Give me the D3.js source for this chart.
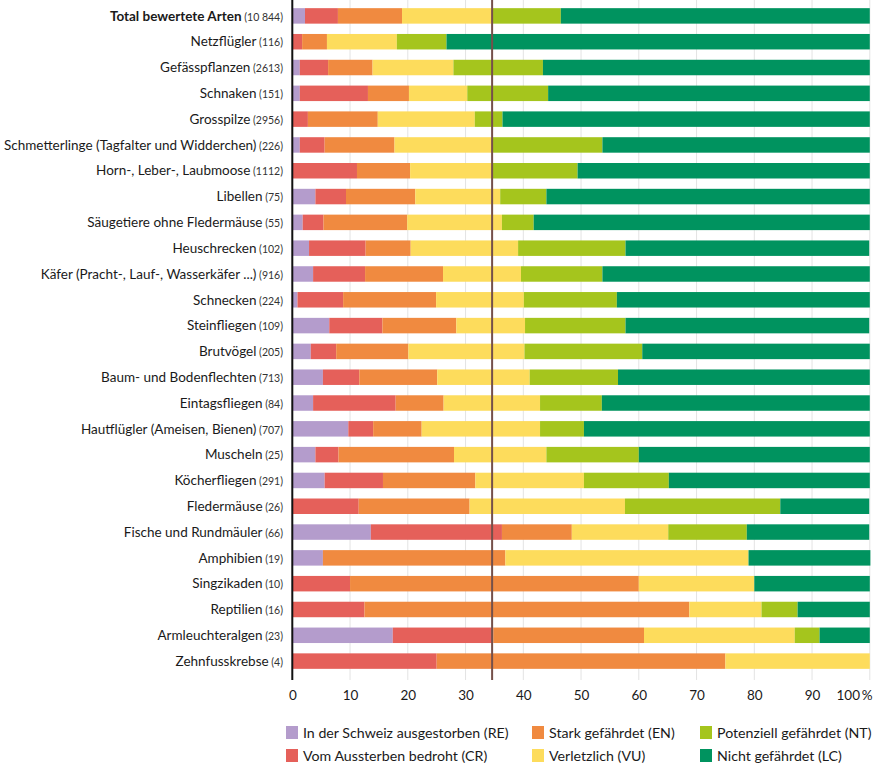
<!DOCTYPE html>
<html><head><meta charset="utf-8">
<script src="https://cdn.jsdelivr.net/npm/d3@7"></script>
<style>
html,body{margin:0;padding:0;background:#fff;}
svg{display:block;font-family:Lato, "Open Sans", sans-serif;}
</style></head>
<body><svg id="chart" width="873" height="771"></svg>
<script>
const categories = [
  "Total bewertete Arten","Netzflügler","Gefässpflanzen","Schnaken","Grosspilze",
  "Schmetterlinge (Tagfalter und Widderchen)","Horn-, Leber-, Laubmoose","Libellen",
  "Säugetiere ohne Fledermäuse","Heuschrecken","Käfer (Pracht-, Lauf-, Wasserkäfer ...)",
  "Schnecken","Steinfliegen","Brutvögel","Baum- und Bodenflechten","Eintagsfliegen",
  "Hautflügler (Ameisen, Bienen)","Muscheln","Köcherfliegen","Fledermäuse",
  "Fische und Rundmäuler","Amphibien","Singzikaden","Reptilien","Armleuchteralgen","Zehnfusskrebse"
];
const counts = ["10 844","116","2613","151","2956","226","1112","75","55","102","916","224","109","205","713","84","707","25","291","26","66","19","10","16","23","4"];
const seriesKeys = ["RE","CR","EN","VU","NT","LC"];
const seriesNames = ["In der Schweiz ausgestorben (RE)","Vom Aussterben bedroht (CR)","Stark gefährdet (EN)","Verletzlich (VU)","Potenziell gefährdet (NT)","Nicht gefährdet (LC)"];
const seriesColors = ["#b49ccc","#e5605a","#f08a40","#fddc5c","#a5c51d","#00935f"];
const RE = [2.2,0,1.3,1.3,0,1.3,0,4.0,1.8,2.9,3.6,0.9,6.4,3.2,5.3,3.6,9.7,4,5.6,0,13.6,5.3,0,0,17.4,0];
const CR = [5.7,1.7,4.9,11.8,2.7,4.3,11.2,5.3,3.6,9.8,9.0,7.9,9.2,4.4,6.3,14.3,4.3,4,10.1,11.5,22.7,0,10,12.5,17.4,25];
const EN = [11.1,4.3,7.7,7.1,12.1,12.1,9.2,12.0,14.5,7.8,13.5,16.1,12.8,12.5,13.5,8.3,8.4,20,16.0,19.2,12.1,31.6,50,56.25,26.1,50];
const VU = [15.6,12.1,14.0,10.1,16.8,17.0,14.3,14.7,16.4,18.6,13.5,15.2,11.9,20.1,16.0,16.7,20.5,16,18.8,26.9,16.7,42.1,20,12.5,26.1,25];
const NT = [11.9,8.6,15.5,14.0,4.8,19.0,14.7,8.0,5.5,18.6,14.1,16.1,17.4,20.4,15.3,10.7,7.6,16,14.7,26.9,13.6,0,0,6.25,4.3,0];
const LC = [53.5,73.3,56.6,55.7,63.6,46.3,50.6,56.0,58.2,42.2,46.3,43.8,42.2,39.4,43.6,46.4,49.5,40,34.8,15.4,21.2,21.1,20,12.5,8.7,0];
const averageThreatened = 34.6;
const xTicks = [0,10,20,30,40,50,60,70,80,90,100];

const rows = categories.map((c,i)=>({cat:c, RE:RE[i], CR:CR[i], EN:EN[i], VU:VU[i], NT:NT[i], LC:LC[i]}));
const stacked = d3.stack().keys(seriesKeys)(rows);

const svg = d3.select("#chart");
const x = d3.scaleLinear().domain([0,100]).range([292.3, 869.8]);
const y = d3.scaleBand().domain(categories).range([3, 674]).paddingInner(0.4).paddingOuter(0.2);
const plotBottom = 680;

// gridlines
svg.append("g").selectAll("line").data(xTicks.slice(1)).join("line")
  .attr("x1", d=>x(d)).attr("x2", d=>x(d)).attr("y1",0).attr("y2",plotBottom)
  .attr("stroke","#e3e3e3").attr("stroke-width",1);

// bars
const color = d3.scaleOrdinal().domain(seriesKeys).range(seriesColors);
svg.append("g").selectAll("g").data(stacked).join("g")
  .attr("fill", d=>color(d.key))
  .selectAll("rect").data(d=>d).join("rect")
  .attr("x", d=>x(d[0])).attr("width", d=>Math.max(0, x(d[1])-x(d[0])))
  .attr("y", d=>y(d.data.cat)).attr("height", y.bandwidth());

// average line
svg.append("line").attr("x1", x(averageThreatened)).attr("x2", x(averageThreatened))
  .attr("y1",0).attr("y2",plotBottom).attr("stroke","#75504a").attr("stroke-width",2);

// y axis line
svg.append("line").attr("x1", x(0)).attr("x2", x(0)).attr("y1",0).attr("y2",plotBottom)
  .attr("stroke","#111").attr("stroke-width",2);

// category labels
const lab = svg.append("g").selectAll("text").data(categories).join("text")
  .attr("x", 283).attr("y", d=>y(d)+y.bandwidth()/2).attr("dy","0.35em")
  .attr("text-anchor","end").attr("fill","#1a1a1a").attr("font-size",13.5)
  .attr("font-weight",(d,i)=>i===0?"bold":"normal");
lab.append("tspan").text(d=>d);
lab.append("tspan").attr("font-size",10.5).attr("fill","#333").attr("font-weight","normal")
  .text((d,i)=>" ("+counts[i]+")");

// x axis tick labels
const xAxis = d3.axisBottom(x).tickValues(xTicks).tickSize(0).tickPadding(0)
  .tickFormat(d=> d===100 ? "100\u2009%" : d);
const ax = svg.append("g").attr("transform",`translate(0,${plotBottom+10})`).call(xAxis);
ax.select(".domain").remove();
ax.selectAll("text").attr("font-size",13.5).attr("fill","#1a1a1a").attr("font-family","Lato, sans-serif");
ax.selectAll(".tick").filter(d=>d===100).select("text").attr("text-anchor","end").attr("x", 872-x(100));

// legend
const legX = [286, 532, 700];
const legY = [733, 756];
const leg = svg.append("g").selectAll("g").data(seriesNames).join("g")
  .attr("transform",(d,i)=>`translate(${legX[Math.floor(i/2)]},${legY[i%2]})`);
leg.append("rect").attr("x",0).attr("y",-7).attr("width",12).attr("height",13).attr("fill",(d,i)=>seriesColors[i]);
leg.append("text").attr("x",17).attr("y",0).attr("dy","0.35em").attr("font-size",14.2).attr("fill","#1a1a1a").text(d=>d);
</script></body></html>
